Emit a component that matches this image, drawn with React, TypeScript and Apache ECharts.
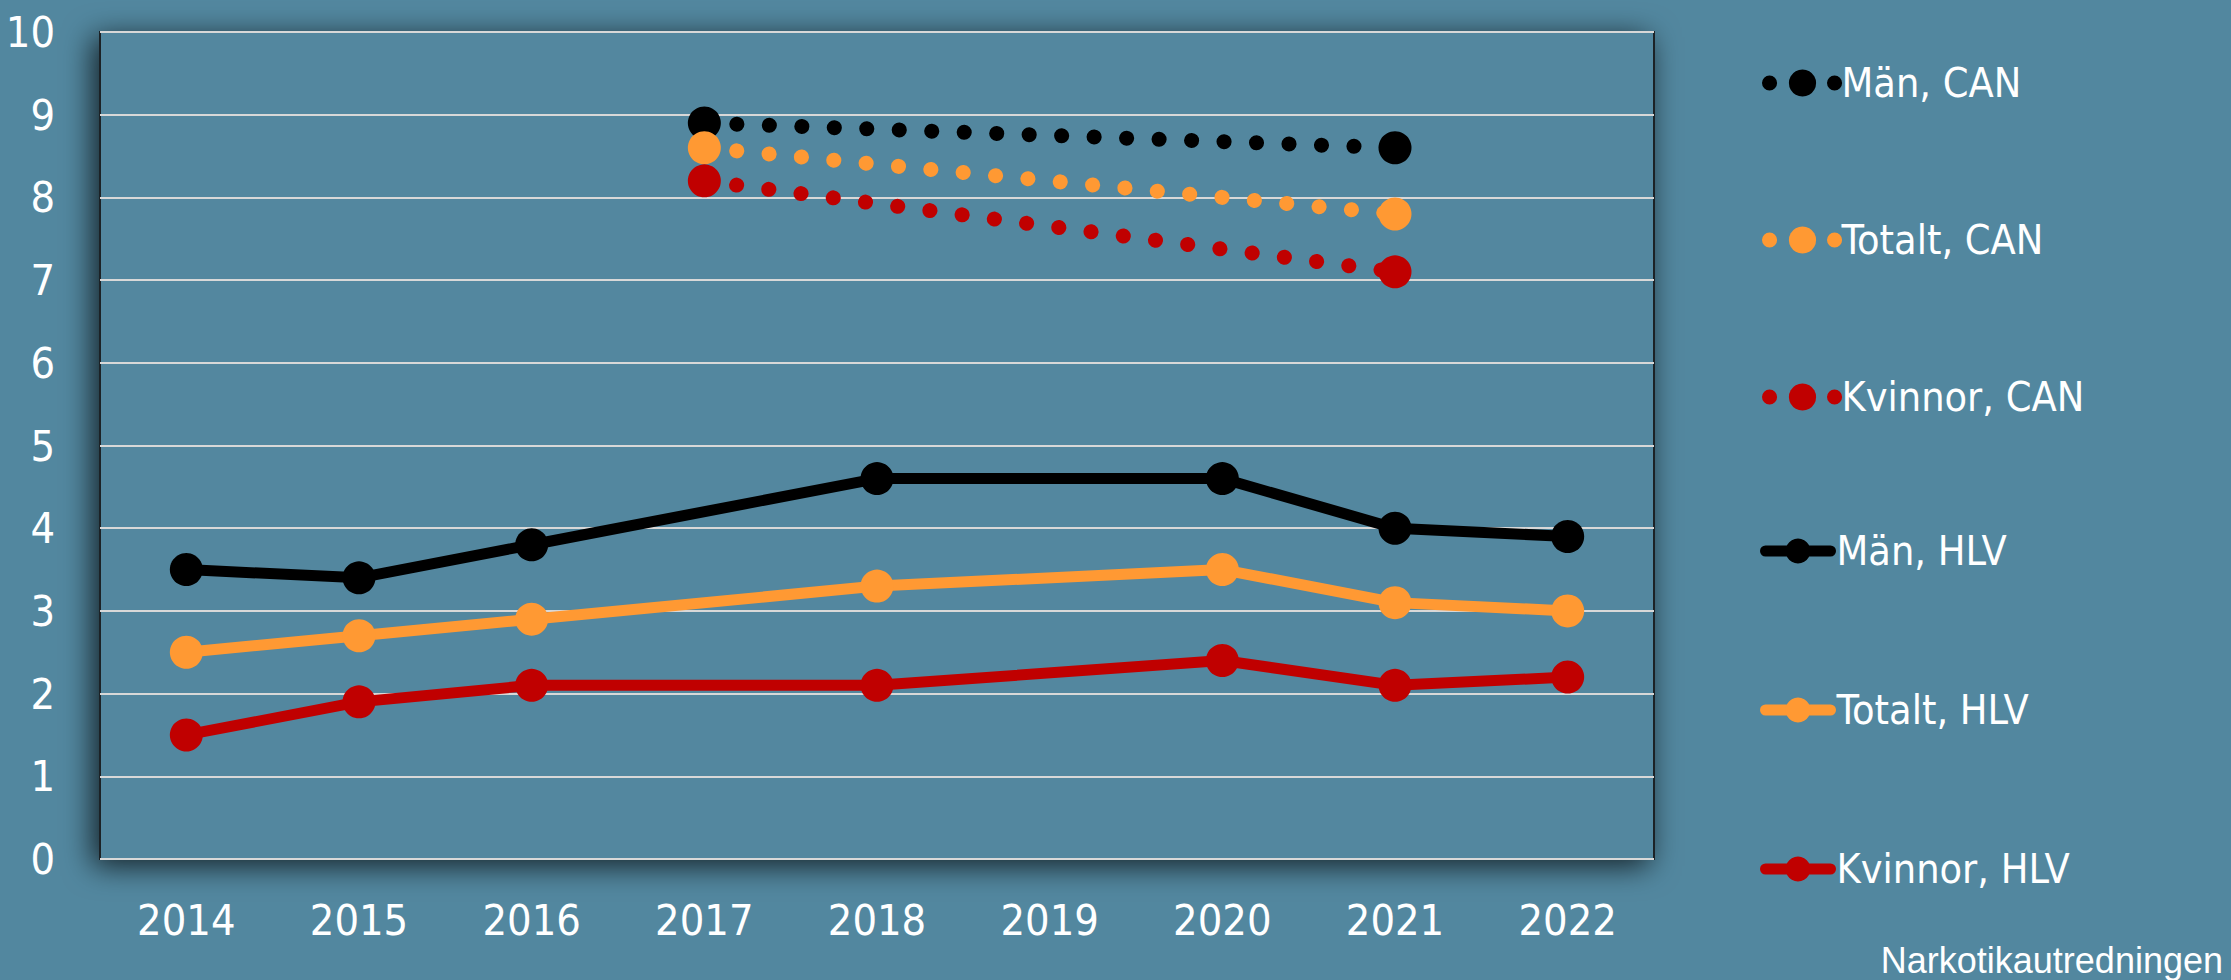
import React, { useEffect, useRef } from "react";
import * as echarts from "echarts";

const years = ["2014", "2015", "2016", "2017", "2018", "2019", "2020", "2021", "2022"];
const yTicks = [0, 1, 2, 3, 4, 5, 6, 7, 8, 9, 10];

const manCAN = [null, null, null, 8.9, null, null, null, 8.6, null];
const totaltCAN = [null, null, null, 8.6, null, null, null, 7.8, null];
const kvinnorCAN = [null, null, null, 8.2, null, null, null, 7.1, null];

const manHLV = [3.5, 3.4, 3.8, null, 4.6, null, 4.6, 4.0, 3.9];
const totaltHLV = [2.5, 2.7, 2.9, null, 3.3, null, 3.5, 3.1, 3.0];
const kvinnorHLV = [1.5, 1.9, 2.1, null, 2.1, null, 2.4, 2.1, 2.2];

const seriesNames = ["Män, CAN", "Totalt, CAN", "Kvinnor, CAN", "Män, HLV", "Totalt, HLV", "Kvinnor, HLV"];
const seriesColors = ["#000000", "#FF9933", "#C00000", "#000000", "#FF9933", "#C00000"];
const seriesData = [manCAN, totaltCAN, kvinnorCAN, manHLV, totaltHLV, kvinnorHLV];
const credit = "Narkotikautredningen";

const BG = "#52879F";
const FONT = "'DejaVu Sans Condensed', 'Liberation Sans', sans-serif";

export default function App() {
  const ref = useRef<HTMLDivElement>(null);
  useEffect(() => {
    document.body.style.margin = "0";
    document.body.style.background = BG;
    const chart = echarts.init(ref.current!, null, { renderer: "svg" });
    const series: any[] = seriesData.map((d, i) => {
      const isCAN = i < 3;
      return {
        name: seriesNames[i],
        type: "line",
        data: d,
        connectNulls: true,
        symbol: "circle",
        symbolSize: 33,
        showSymbol: true,
        itemStyle: { color: seriesColors[i] },
        lineStyle: isCAN
          ? { color: seriesColors[i], width: 15, type: [0.1, 32.4], cap: "round" }
          : { color: seriesColors[i], width: 11, cap: "round", join: "round" },
        z: isCAN ? 3 : 2,
      };
    });
    const legendText = {
      color: "#FFFFFF",
      fontFamily: FONT,
      fontSize: 41,
      lineHeight: 50,
      padding: [0, 0, 0, 1],
    };
    chart.setOption({
      animation: false,
      backgroundColor: BG,
      grid: {
        left: 100,
        top: 32,
        right: 2231 - 1654,
        bottom: 980 - 859,
        show: true,
        backgroundColor: BG,
        borderColor: "#1E2328",
        borderWidth: 2,
        shadowBlur: 30,
        shadowColor: "rgba(0,0,0,0.75)",
        shadowOffsetX: -6,
        shadowOffsetY: 6,
      },
      legend: [
        {
          data: seriesNames.slice(0, 3),
          orient: "vertical",
          left: 1757,
          top: 53,
          itemWidth: 66,
          itemHeight: 34,
          itemGap: 107,
          lineStyle: { width: 15, type: [0.1, 32.4], cap: "round" },
          textStyle: legendText,
          selectedMode: false,
        },
        {
          data: seriesNames.slice(3),
          orient: "vertical",
          left: 1755,
          top: 521,
          itemWidth: 65,
          itemHeight: 31,
          itemGap: 109,
          lineStyle: { width: 11, cap: "round" },
          textStyle: legendText,
          selectedMode: false,
        },
      ],
      xAxis: {
        type: "category",
        data: years,
        boundaryGap: true,
        axisLine: { show: false },
        axisTick: { show: false },
        axisLabel: {
          color: "#FFFFFF",
          fontFamily: FONT,
          fontSize: 43,
          margin: 39,
        },
        splitLine: { show: false },
      },
      yAxis: {
        type: "value",
        min: yTicks[0],
        max: yTicks[yTicks.length - 1],
        interval: 1,
        axisLine: { show: false },
        axisTick: { show: false },
        axisLabel: {
          color: "#FFFFFF",
          fontFamily: FONT,
          fontSize: 43,
          margin: 45,
        },
        splitLine: { show: true, lineStyle: { color: "#D8D8D8", width: 2 } },
      },
      graphic: [
        {
          type: "text",
          right: 8,
          bottom: 2,
          style: {
            text: credit,
            fill: "#FFFFFF",
            font: "36px 'Liberation Sans', Arial, sans-serif",
          },
        },
      ],
      series,
    });
    return () => chart.dispose();
  }, []);
  return (
    <div
      ref={ref}
      style={{ position: "fixed", left: 0, top: 0, width: 2231, height: 980, background: BG }}
    />
  );
}
